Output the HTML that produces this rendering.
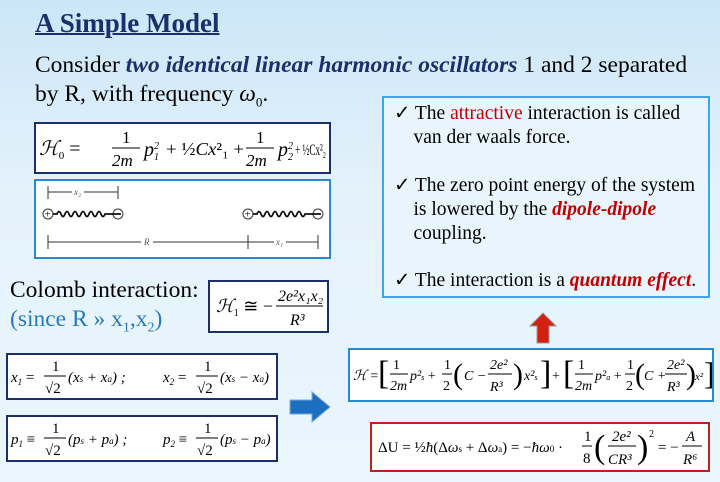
<!DOCTYPE html>
<html><head><meta charset="utf-8"><style>
body{margin:0;width:720px;height:482px;overflow:hidden;background:linear-gradient(#cce6f8,#e4f2fb 40%,#eaf6fd);font-family:"Liberation Serif",serif;position:relative}
.a{position:absolute}
.box{position:absolute;background:#fff;box-sizing:border-box}
svg text{font-family:"Liberation Serif",serif}
.it{font-style:italic}
.red{color:#c00000}
</style></head><body>
<div class="a" style="left:35px;top:8px;font-size:27px;font-weight:bold;color:#1b2f6b;text-decoration:underline;text-decoration-thickness:2px">A Simple Model</div>
<div class="a" style="left:35px;top:51px;font-size:23.5px;line-height:29px;color:#000;white-space:nowrap">Consider <b class="it" style="color:#1b2f6b">two identical linear harmonic oscillators</b> 1 and 2 separated<br>by R, with frequency <i>ω</i><sub style="font-size:13px">0</sub>.</div>

<div class="box" style="left:34px;top:122px;width:297px;height:52px;border:2px solid #1b2f6b">
<svg width="293" height="48" style="font-size:20px">
<text x="3" y="31" font-style="italic">ℋ<tspan font-size="11" font-style="normal" dy="4">0</tspan><tspan dy="-4" font-style="normal"> =</tspan></text>
<text x="86" y="19" font-size="17">1</text><line x1="76" y1="24" x2="104" y2="24" stroke="#000"/><text x="76" y="42" font-size="17" font-style="italic">2m</text>
<text x="108" y="32" font-style="italic">p<tspan font-size="10" dy="-7">2</tspan><tspan font-size="10" dx="-5" dy="11">1</tspan></text>
<text x="130" y="31" font-size="18" textLength="78" lengthAdjust="spacingAndGlyphs">+ ½<tspan font-style="italic">Cx</tspan>²₁ +</text>
<text x="220" y="19" font-size="17">1</text><line x1="210" y1="24" x2="238" y2="24" stroke="#000"/><text x="210" y="42" font-size="17" font-style="italic">2m</text>
<text x="242" y="32" font-style="italic">p<tspan font-size="10" dy="-7">2</tspan><tspan font-size="10" dx="-5" dy="11">2</tspan></text>
<text x="259" y="31" font-size="16" textLength="31" lengthAdjust="spacingAndGlyphs">+ ½Cx²₂</text>
</svg></div>

<div class="box" style="left:34px;top:179px;width:297px;height:80px;border:2px solid #2a8ad0">
<svg width="293" height="76" font-size="9">
<line x1="12" y1="5" x2="12" y2="18" stroke="#333"/><line x1="82" y1="5" x2="82" y2="18" stroke="#333"/>
<line x1="12" y1="11" x2="82" y2="11" stroke="#333"/><rect x="36" y="5" width="12" height="10" fill="#fff"/><text x="38" y="14" fill="#555" font-style="italic">x₂</text>
<g fill="#fff" stroke="#333"><circle cx="12" cy="33" r="5"/><circle cx="82" cy="33" r="5"/><circle cx="212" cy="33" r="5"/><circle cx="282" cy="33" r="5"/></g>
<text x="8.5" y="36.5" font-size="11">+</text><text x="79" y="36.5" font-size="11">−</text><text x="208.5" y="36.5" font-size="11">+</text><text x="279" y="36.5" font-size="11">−</text>
<path d="M17 33 l4 0 q2 -5 4 0 q2 5 4 0 q2 -5 4 0 q2 5 4 0 q2 -5 4 0 q2 5 4 0 q2 -5 4 0 q2 5 4 0 q2 -5 4 0 q2 5 4 0 q2 -5 4 0 q2 5 4 0 l16 0" fill="none" stroke="#111" stroke-width="1.8"/>
<path d="M217 33 l4 0 q2 -5 4 0 q2 5 4 0 q2 -5 4 0 q2 5 4 0 q2 -5 4 0 q2 5 4 0 q2 -5 4 0 q2 5 4 0 q2 -5 4 0 q2 5 4 0 q2 -5 4 0 q2 5 4 0 l16 0" fill="none" stroke="#111" stroke-width="1.8"/>
<line x1="12" y1="54" x2="12" y2="68" stroke="#333"/><line x1="212" y1="54" x2="212" y2="68" stroke="#333"/><line x1="282" y1="54" x2="282" y2="68" stroke="#333"/>
<line x1="12" y1="61" x2="282" y2="61" stroke="#333"/>
<rect x="105" y="56" width="12" height="10" fill="#fff"/><text x="108" y="64" fill="#555" font-style="italic">R</text>
<rect x="238" y="56" width="12" height="10" fill="#fff"/><text x="240" y="64" fill="#555" font-style="italic">x₁</text>
</svg></div>

<div class="box" style="left:382px;top:96px;width:328px;height:202px;border:2px solid #3aa8e8;background:#e8f5fd;font-size:19.5px;line-height:24px;padding:4px 0 0 10px;color:#000;white-space:nowrap">
<div>✓ The <span class="red">attractive</span> interaction is called<br>&nbsp;&nbsp;&nbsp; van der waals force.</div>
<div style="margin-top:24px">✓ The zero point energy of the system<br>&nbsp;&nbsp;&nbsp; is lowered by the <b class="it red">dipole-dipole</b><br>&nbsp;&nbsp;&nbsp; coupling.</div>
<div style="margin-top:23px">✓ The interaction is a <b class="it red">quantum effect</b>.</div>
</div>

<div class="a" style="left:10px;top:276px;font-size:23.5px;line-height:29px;white-space:nowrap">Colomb interaction:<br><span style="color:#2a78c0">(since R » x<sub style="font-size:14px">1</sub>,x<sub style="font-size:14px">2</sub>)</span></div>

<div class="box" style="left:208px;top:280px;width:121px;height:53px;border:2px solid #1b2f6b">
<svg width="117" height="49" font-size="18">
<text x="6" y="30" font-style="italic">ℋ<tspan font-size="10" font-style="normal" dy="4">1</tspan><tspan dy="-4" font-style="normal"> ≅ −</tspan></text>
<text x="68" y="19" font-style="italic" font-size="16">2e²x₁x₂</text><line x1="66" y1="24" x2="113" y2="24" stroke="#000"/>
<text x="80" y="43" font-style="italic" font-size="16">R³</text></svg></div>

<div class="box" style="left:6px;top:353px;width:272px;height:47px;border:2px solid #1b2f6b">
<svg width="268" height="43" font-size="15">
<text x="3" y="27" font-style="italic">x<tspan font-size="9" dy="3">1</tspan><tspan dy="-3" font-style="normal"> =</tspan></text>
<text x="44" y="16">1</text><line x1="36" y1="21" x2="58" y2="21" stroke="#000"/><text x="37" y="38">√2</text>
<text x="60" y="27" font-style="italic">(x<tspan font-size="9">s</tspan> + x<tspan font-size="9">a</tspan>)  ;</text>
<text x="155" y="27" font-style="italic">x<tspan font-size="9" dy="3">2</tspan><tspan dy="-3" font-style="normal"> =</tspan></text>
<text x="196" y="16">1</text><line x1="188" y1="21" x2="210" y2="21" stroke="#000"/><text x="189" y="38">√2</text>
<text x="212" y="27" font-style="italic">(x<tspan font-size="9">s</tspan> − x<tspan font-size="9">a</tspan>)</text>
</svg></div>

<div class="box" style="left:6px;top:415px;width:272px;height:47px;border:2px solid #1b2f6b">
<svg width="268" height="43" font-size="15">
<text x="3" y="27" font-style="italic">p<tspan font-size="9" dy="3">1</tspan><tspan dy="-3" font-style="normal"> ≡</tspan></text>
<text x="44" y="16">1</text><line x1="36" y1="21" x2="58" y2="21" stroke="#000"/><text x="37" y="38">√2</text>
<text x="60" y="27" font-style="italic">(p<tspan font-size="9">s</tspan> + p<tspan font-size="9">a</tspan>)  ;</text>
<text x="155" y="27" font-style="italic">p<tspan font-size="9" dy="3">2</tspan><tspan dy="-3" font-style="normal"> ≡</tspan></text>
<text x="196" y="16">1</text><line x1="188" y1="21" x2="210" y2="21" stroke="#000"/><text x="189" y="38">√2</text>
<text x="212" y="27" font-style="italic">(p<tspan font-size="9">s</tspan> − p<tspan font-size="9">a</tspan>)</text>
</svg></div>

<svg class="a" style="left:288px;top:390px" width="44" height="34"><path d="M2 10 H24 V2 L42 17 L24 32 V24 H2 Z" fill="#1c6fc0" stroke="#7aa8d8" stroke-width="1"/></svg>
<svg class="a" style="left:528px;top:311px" width="30" height="34"><path d="M15 2 L28 15 H21 V32 H9 V15 H2 Z" fill="#d42010" stroke="#999" stroke-width="1"/></svg>

<div class="box" style="left:348px;top:348px;width:366px;height:54px;border:2px solid #2a8ad0">
<svg width="362" height="50" font-size="14">
<text x="3" y="30" font-style="italic">ℋ <tspan font-style="normal">=</tspan></text>
<text x="28" y="34" font-size="34">[</text>
<text x="43" y="19">1</text><line x1="40" y1="24" x2="58" y2="24" stroke="#000"/><text x="40" y="40" font-style="italic">2m</text>
<text x="60" y="30" font-style="italic">p²<tspan font-size="8">s</tspan><tspan font-style="normal"> +</tspan></text>
<text x="94" y="19">1</text><line x1="92" y1="24" x2="102" y2="24" stroke="#000"/><text x="93" y="40">2</text>
<text x="103" y="34" font-size="30">(</text><text x="114" y="30" font-style="italic">C −</text>
<text x="140" y="19" font-style="italic">2e²</text><line x1="138" y1="24" x2="162" y2="24" stroke="#000"/><text x="140" y="41" font-style="italic">R³</text>
<text x="163" y="34" font-size="30">)</text><text x="174" y="30" font-style="italic">x²<tspan font-size="8">s</tspan></text>
<text x="190" y="34" font-size="34">]</text><text x="202" y="30">+</text>
<text x="213" y="34" font-size="34">[</text>
<text x="228" y="19">1</text><line x1="225" y1="24" x2="243" y2="24" stroke="#000"/><text x="225" y="40" font-style="italic">2m</text>
<text x="245" y="30" font-style="italic">p²<tspan font-size="8">a</tspan><tspan font-style="normal"> +</tspan></text>
<text x="277" y="19">1</text><line x1="275" y1="24" x2="285" y2="24" stroke="#000"/><text x="276" y="40">2</text>
<text x="285" y="34" font-size="30">(</text><text x="294" y="30" font-style="italic">C +</text>
<text x="317" y="19" font-style="italic">2e²</text><line x1="315" y1="24" x2="337" y2="24" stroke="#000"/><text x="317" y="41" font-style="italic">R³</text>
<text x="336" y="34" font-size="30">)</text><text x="345" y="30" font-style="italic" font-size="11">x²</text>
<text x="354" y="34" font-size="32">]</text>
</svg></div>

<div class="box" style="left:370px;top:422px;width:340px;height:50px;border:2px solid #c0201a">
<svg width="336" height="46" font-size="15">
<text x="6" y="28">ΔU = ½<tspan font-style="italic">ħ</tspan>(Δ<tspan font-style="italic">ω</tspan><tspan font-size="9">s</tspan> + Δ<tspan font-style="italic">ω</tspan><tspan font-size="9">a</tspan>) = −<tspan font-style="italic">ħω</tspan><tspan font-size="9">0</tspan> ·</text>
<text x="212" y="17">1</text><line x1="210" y1="22" x2="220" y2="22" stroke="#000"/><text x="211" y="39">8</text>
<text x="222" y="34" font-size="34">(</text>
<text x="240" y="17" font-style="italic">2e²</text><line x1="236" y1="22" x2="264" y2="22" stroke="#000"/><text x="236" y="40" font-style="italic">CR³</text>
<text x="265" y="34" font-size="34">)</text><text x="277" y="13" font-size="10">2</text>
<text x="286" y="28">= −</text>
<text x="314" y="17" font-style="italic">A</text><line x1="310" y1="22" x2="330" y2="22" stroke="#000"/><text x="311" y="40" font-style="italic">R⁶</text>
</svg></div>
</body></html>
